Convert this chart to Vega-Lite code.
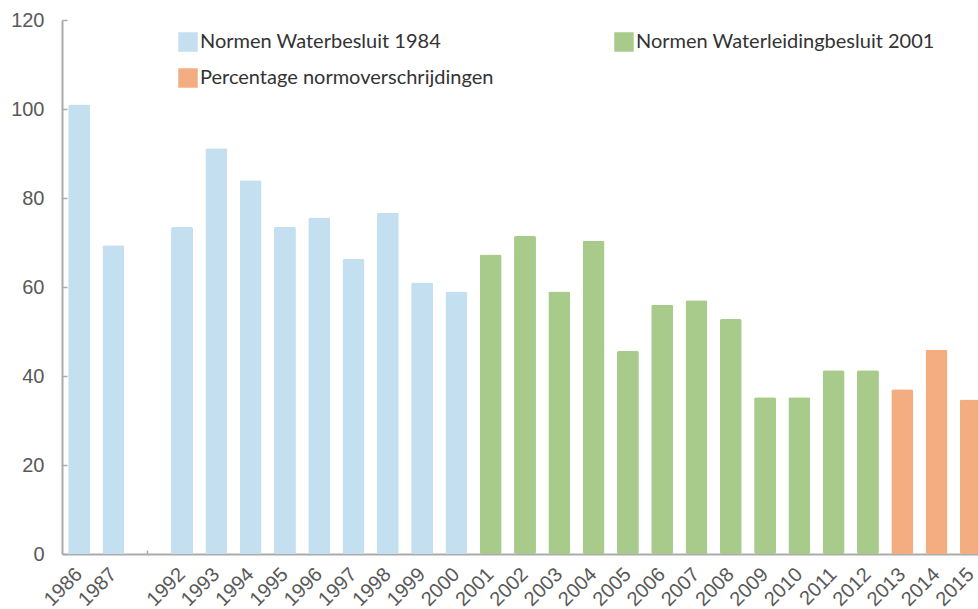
{
  "$schema": "https://vega.github.io/schema/vega-lite/v6.json",
  "autosize": "none",
  "width": 926,
  "height": 534,
  "padding": {"left": 62, "top": 20, "right": 0, "bottom": 55},
  "background": "white",
  "data": {
    "values": [
      {"jaar": "1986", "waarde": 101, "reeks": "Normen Waterbesluit 1984"},
      {"jaar": "1987", "waarde": 69.4, "reeks": "Normen Waterbesluit 1984"},
      {"jaar": "1992", "waarde": 73.5, "reeks": "Normen Waterbesluit 1984"},
      {"jaar": "1993", "waarde": 91.2, "reeks": "Normen Waterbesluit 1984"},
      {"jaar": "1994", "waarde": 84, "reeks": "Normen Waterbesluit 1984"},
      {"jaar": "1995", "waarde": 73.5, "reeks": "Normen Waterbesluit 1984"},
      {"jaar": "1996", "waarde": 75.6, "reeks": "Normen Waterbesluit 1984"},
      {"jaar": "1997", "waarde": 66.3, "reeks": "Normen Waterbesluit 1984"},
      {"jaar": "1998", "waarde": 76.7, "reeks": "Normen Waterbesluit 1984"},
      {"jaar": "1999", "waarde": 61, "reeks": "Normen Waterbesluit 1984"},
      {"jaar": "2000", "waarde": 59, "reeks": "Normen Waterbesluit 1984"},
      {"jaar": "2001", "waarde": 67.3, "reeks": "Normen Waterleidingbesluit 2001"},
      {"jaar": "2002", "waarde": 71.5, "reeks": "Normen Waterleidingbesluit 2001"},
      {"jaar": "2003", "waarde": 59, "reeks": "Normen Waterleidingbesluit 2001"},
      {"jaar": "2004", "waarde": 70.4, "reeks": "Normen Waterleidingbesluit 2001"},
      {"jaar": "2005", "waarde": 45.6, "reeks": "Normen Waterleidingbesluit 2001"},
      {"jaar": "2006", "waarde": 56, "reeks": "Normen Waterleidingbesluit 2001"},
      {"jaar": "2007", "waarde": 57, "reeks": "Normen Waterleidingbesluit 2001"},
      {"jaar": "2008", "waarde": 52.8, "reeks": "Normen Waterleidingbesluit 2001"},
      {"jaar": "2009", "waarde": 35.2, "reeks": "Normen Waterleidingbesluit 2001"},
      {"jaar": "2010", "waarde": 35.2, "reeks": "Normen Waterleidingbesluit 2001"},
      {"jaar": "2011", "waarde": 41.3, "reeks": "Normen Waterleidingbesluit 2001"},
      {"jaar": "2012", "waarde": 41.3, "reeks": "Normen Waterleidingbesluit 2001"},
      {"jaar": "2013", "waarde": 37, "reeks": "Percentage normoverschrijdingen"},
      {"jaar": "2014", "waarde": 45.9, "reeks": "Percentage normoverschrijdingen"},
      {"jaar": "2015", "waarde": 34.7, "reeks": "Percentage normoverschrijdingen"}
    ]
  },
  "mark": {"type": "bar", "cornerRadius": 2},
  "encoding": {
    "x": {
      "field": "jaar",
      "type": "nominal",
      "title": null,
      "scale": {
        "domain": ["1986", "1987", " ", "1992", "1993", "1994", "1995", "1996", "1997", "1998", "1999", "2000", "2001", "2002", "2003", "2004", "2005", "2006", "2007", "2008", "2009", "2010", "2011", "2012", "2013", "2014", "2015"],
        "paddingInner": 0.36,
        "paddingOuter": 0.18
      },
      "axis": {
        "labelAngle": -45,
        "labelAlign": "right",
        "labelBaseline": "middle",
        "labelFont": "Liberation Sans",
        "labelFontSize": 20,
        "labelColor": "#595959",
        "labelPadding": 21,
        "labelOverlap": false,
        "domainColor": "#ababab",
        "domainWidth": 2,
        "tickColor": "#ababab",
        "tickSize": -4,
        "tickWidth": 1.5,
        "grid": false
      }
    },
    "y": {
      "field": "waarde",
      "type": "quantitative",
      "title": null,
      "scale": {"domain": [0, 120]},
      "axis": {
        "values": [0, 20, 40, 60, 80, 100, 120],
        "labelFont": "Liberation Sans",
        "labelFontSize": 20,
        "labelColor": "#595959",
        "labelPadding": 23,
        "domainColor": "#ababab",
        "domainWidth": 2,
        "tickColor": "#ababab",
        "tickSize": -5,
        "tickWidth": 1.5,
        "grid": false
      }
    },
    "color": {
      "field": "reeks",
      "type": "nominal",
      "scale": {
        "domain": ["Normen Waterbesluit 1984", "Percentage normoverschrijdingen", "Normen Waterleidingbesluit 2001"],
        "range": ["#c3dff0", "#f4ad80", "#a8cb8b"]
      },
      "legend": {
        "title": null,
        "orient": "none",
        "legendX": 116,
        "legendY": 12,
        "columns": 2,
        "columnPadding": 120,
        "rowPadding": 16,
        "symbolType": "square",
        "symbolSize": 380,
        "symbolStrokeWidth": 0,
        "labelFont": "Lato",
        "labelFontSize": 20,
        "labelColor": "#333333",
        "labelOffset": 2,
        "labelLimit": 400
      }
    }
  },
  "config": {"view": {"stroke": null}}
}
